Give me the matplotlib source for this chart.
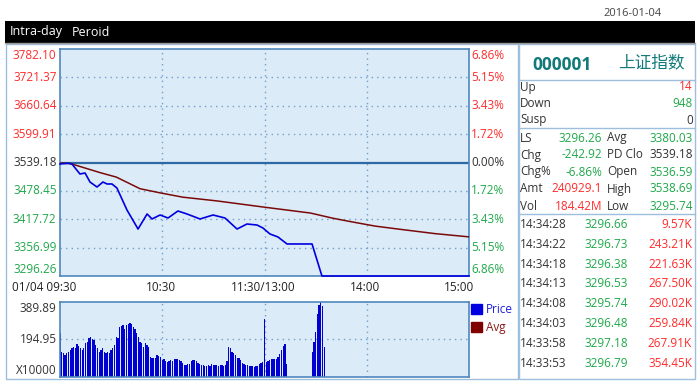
import matplotlib
matplotlib.use('Agg')
import matplotlib.pyplot as plt
from matplotlib.patches import Rectangle, Patch

plt.rcParams['font.family'] = ['Open Sans', 'Noto Sans CJK SC', 'DejaVu Sans']

# ---------------- data ----------------
trade_date = "2016-01-04"
prev_close = 3539.18
price_ticks = [3296.26, 3356.99, 3417.72, 3478.45, 3539.18, 3599.91, 3660.64, 3721.37, 3782.10]
pct_labels = ["6.86%", "5.15%", "3.43%", "1.72%", "0.00%", "1.72%", "3.43%", "5.15%", "6.86%"]
time_ticks = [0, 60, 120, 180, 240]
time_labels = ["01/04 09:30", "10:30", "11:30/13:00", "14:00", "15:00"]
vol_ticks = [0, 194.95, 389.89]
vol_tick_labels = ["X10000", "194.95", "389.89"]

price_minutes = [0, 4.7, 7, 11.7, 14.7, 17.6, 21.7, 25.2, 27.6, 30.5, 33.4, 39.3, 45.8, 51.1, 54.0,
                 58.7, 63.4, 69.2, 74.5, 82.2, 89.8, 96.8, 103.9, 109.7, 115.6, 119.1, 123.2,
                 127.9, 133.2, 147.9, 153.7, 240]
price_values = [3536.0, 3537.5, 3536.0, 3514.6, 3516.7, 3497.4, 3486.7, 3497.4, 3493.2, 3493.2,
                3484.6, 3437.5, 3396.8, 3429.0, 3418.3, 3426.8, 3420.4, 3435.4, 3429.0, 3418.3,
                3426.8, 3420.4, 3396.8, 3407.5, 3405.4, 3399.0, 3386.2, 3379.8, 3364.8, 3364.8,
                3296.26, 3296.26]

avg_minutes = [0, 6, 24, 33, 47, 59, 72, 92, 119, 147, 160, 170, 185, 200, 220, 240]
avg_values = [3538, 3537, 3517, 3508, 3483, 3474, 3465, 3457, 3444, 3431, 3420, 3413, 3403,
              3396, 3387, 3380]

vol_minutes = list(range(0, 134)) + list(range(148, 156))
vol_values = [227, 132, 124, 115, 124, 132, 141, 149, 158, 149,
              172, 163, 149, 141, 149, 175, 184, 201, 206, 196,
              192, 167, 149, 132, 141, 149, 132, 124, 132, 124,
              141, 149, 167, 210, 201, 258, 265, 270, 252, 270,
              278, 283, 273, 261, 247, 227, 210, 184, 175, 158,
              175, 167, 155, 106, 101, 98, 98, 115, 110, 103,
              89, 93, 81, 76, 81, 86, 81, 93, 94, 93,
              86, 81, 72, 64, 64, 67, 69, 81, 89, 86,
              81, 72, 69, 64, 64, 58, 58, 64, 58, 69,
              64, 62, 64, 58, 62, 64, 58, 64, 81, 155,
              149, 132, 124, 115, 98, 98, 86, 72, 69, 64,
              64, 58, 55, 55, 52, 55, 58, 65, 72, 76,
              299,
              78, 81, 89, 92, 94, 92, 96, 106, 120, 140, 160, 172, 69,
              132, 184, 235, 330, 373, 389, 368, 158]

code = "000001"
index_name = "上证指数"
breadth_labels = ["Up", "Down", "Susp"]
breadth_values = ["14", "948", "0"]
quote_left_labels = ["LS", "Chg", "Chg%", "Amt", "Vol"]
quote_left_values = ["3296.26", "-242.92", "-6.86%", "240929.1", "184.42M"]
quote_right_labels = ["Avg", "PD Clo", "Open", "High", "Low"]
quote_right_values = ["3380.03", "3539.18", "3536.59", "3538.69", "3295.74"]
tick_times = ["14:34:28", "14:34:22", "14:34:18", "14:34:13", "14:34:08", "14:34:03", "14:33:58", "14:33:53"]
tick_prices = ["3296.66", "3296.73", "3296.38", "3296.53", "3295.74", "3296.48", "3297.18", "3296.79"]
tick_vols = ["9.57K", "243.21K", "221.63K", "267.50K", "290.02K", "259.84K", "267.91K", "354.45K"]

# ---------------- style ----------------
RED = '#FF2B2B'
GREEN = '#1FA84A'
DARK = '#333333'
TEAL = '#127A7A'
BG = '#DCEBF8'
SPINE = '#4F87BC'
GRID = '#6E9FCB'
FRAME = '#9DBFDD'
BLUE = '#0000E0'
AVG = '#7A0A0A'
FS = 8.5

W, H = 700, 385
fig = plt.figure(figsize=(W / 100, H / 100), dpi=100)


def px_axes(x0, y0, x1, y1):
    return [x0 / W, 1 - y1 / H, (x1 - x0) / W, (y1 - y0) / H]


# background canvas axes in pixel units
bg = fig.add_axes([0, 0, 1, 1], zorder=0)
bg.set_xlim(0, W)
bg.set_ylim(H, 0)
bg.axis('off')

bg.add_patch(Rectangle((5, 21), 690, 22, facecolor='black', edgecolor='none'))
bg.plot([5, 695], [43, 43], color='#9A9A9A', lw=1)
bg.text(10, 32, "Intra-day", color='white', fontsize=9, va='center', ha='left')
bg.text(72, 32, "Peroid", color='white', fontsize=9, va='center', ha='left')
bg.text(662, 13, trade_date, color='#444444', fontsize=8, va='center', ha='right')

bg.add_patch(Rectangle((5.5, 43.5), 512.5, 335, facecolor='none', edgecolor=FRAME, lw=1))
bg.add_patch(Rectangle((518.5, 43.5), 176, 335, facecolor='none', edgecolor=FRAME, lw=1))
for yy in (80, 128, 214):
    bg.plot([518.5, 694.5], [yy, yy], color=FRAME, lw=1)

# right info panel
bg.text(562, 65, code, color=TEAL, fontsize=12.5, fontweight='bold', ha='center', va='center')
bg.text(651, 63, index_name, color=TEAL, fontsize=12, ha='center', va='center')

breadth_colors = [RED, GREEN, DARK]
for i, (lab, val) in enumerate(zip(breadth_labels, breadth_values)):
    y = 87 + i * 16.5
    bg.text(520, y, lab, color=DARK, fontsize=FS, ha='left', va='center')
    bg.text(693, y, val, color=breadth_colors[i], fontsize=FS, ha='right', va='center')

left_colors = [GREEN, GREEN, GREEN, RED, RED]
right_colors = [GREEN, DARK, GREEN, GREEN, GREEN]
for i in range(len(quote_left_labels)):
    y = 138 + i * 17
    bg.text(520, y, quote_left_labels[i], color=DARK, fontsize=FS, ha='left', va='center')
    bg.text(602, y, quote_left_values[i], color=left_colors[i], fontsize=FS, ha='right', va='center')
    bg.text(607, y, quote_right_labels[i], color=DARK, fontsize=FS, ha='left', va='center')
    bg.text(693, y, quote_right_values[i], color=right_colors[i], fontsize=FS, ha='right', va='center')

for i in range(len(tick_times)):
    y = 224.5 + i * 19.8
    bg.text(520, y, tick_times[i], color=DARK, fontsize=FS, ha='left', va='center')
    bg.text(628, y, tick_prices[i], color=GREEN, fontsize=FS, ha='right', va='center')
    bg.text(692, y, tick_vols[i], color=RED, fontsize=FS, ha='right', va='center')

# ---------------- price chart ----------------
ax = fig.add_axes(px_axes(60, 49, 469, 276), zorder=1)
ax.set_facecolor(BG)
ax.set_xlim(time_ticks[0], time_ticks[-1])
ax.set_ylim(price_ticks[0], price_ticks[-1])
for s in ax.spines.values():
    s.set_color(SPINE)
    s.set_linewidth(1.2)
ax.set_xticks([])
ax.set_yticks([])

dot = (0, (1, 3))
for v in price_ticks[1:-1]:
    if v == prev_close:
        ax.axhline(v, color='#2D6AA5', lw=1.6, zorder=1)
    else:
        ax.axhline(v, color=GRID, lw=1, ls=dot, zorder=1)
for t in time_ticks[1:-1]:
    ax.axvline(t, color=GRID, lw=1, ls=dot, zorder=1)

ax.plot(avg_minutes, avg_values, color=AVG, lw=1.1, zorder=3)
ax.plot(price_minutes, price_values, color=BLUE, lw=1.2, zorder=4, clip_on=False,
        solid_joinstyle='round')

n = len(price_ticks)
ytr = ax.get_yaxis_transform()
for i, (v, pl) in enumerate(zip(price_ticks, pct_labels)):
    if v > prev_close:
        c = RED
    elif v < prev_close:
        c = GREEN
    else:
        c = DARK
    va = 'center'
    if i == 0:
        va = 'bottom'
    elif i == n - 1:
        va = 'top'
    ax.annotate(f"{v:.2f}", xy=(0, v), xycoords=ytr, xytext=(-2.5, 0), textcoords='offset points',
                ha='right', va=va, color=c, fontsize=FS)
    ax.annotate(pl, xy=(1, v), xycoords=ytr, xytext=(1.5, 0), textcoords='offset points',
                ha='left', va=va, color=c, fontsize=FS)

xtr = ax.get_xaxis_transform()
for i, (t, lab) in enumerate(zip(time_ticks, time_labels)):
    if i == 0:
        ha, dx = 'right', 12
    elif i == len(time_ticks) - 1:
        ha, dx = 'right', 4
    else:
        ha, dx = 'center', -1
    ax.annotate(lab, xy=(t, 0), xycoords=xtr, xytext=(dx, -8), textcoords='offset points',
                ha=ha, va='center', color='#222222', fontsize=FS)

# ---------------- volume chart ----------------
av = fig.add_axes(px_axes(60, 302, 469, 377), zorder=1)
av.set_facecolor(BG)
av.set_xlim(time_ticks[0], time_ticks[-1])
av.set_ylim(vol_ticks[0], vol_ticks[-1])
for s in av.spines.values():
    s.set_color(SPINE)
    s.set_linewidth(1.2)
av.set_xticks([])
av.set_yticks([])
av.axhline(vol_ticks[1], color=GRID, lw=1, ls=dot, zorder=1)
for t in time_ticks[1:-1]:
    av.axvline(t, color=GRID, lw=1, ls=dot, zorder=1)
av.bar(vol_minutes, vol_values, width=0.75, color='#0000D0', align='center', zorder=2)

vtr = av.get_yaxis_transform()
for i, (v, lab) in enumerate(zip(vol_ticks, vol_tick_labels)):
    va = 'center'
    if i == 0:
        va = 'bottom'
    elif i == len(vol_ticks) - 1:
        va = 'top'
    av.annotate(lab, xy=(0, v), xycoords=vtr, xytext=(-2.5, 0), textcoords='offset points',
                ha='right', va=va, color=DARK, fontsize=FS)

handles = [Patch(facecolor=BLUE, edgecolor=BLUE), Patch(facecolor='#800000', edgecolor='#800000')]
leg = av.legend(handles, ["Price", "Avg"], loc='upper left', bbox_to_anchor=(1.0, 1.02),
                frameon=False, handlelength=0.9, handleheight=0.9, handletextpad=0.3,
                borderaxespad=0.1, labelspacing=0.45, fontsize=FS, borderpad=0.1)
leg.get_texts()[0].set_color('#2020E0')
leg.get_texts()[1].set_color('#8B1A1A')

fig.savefig('out.png', dpi=100)
